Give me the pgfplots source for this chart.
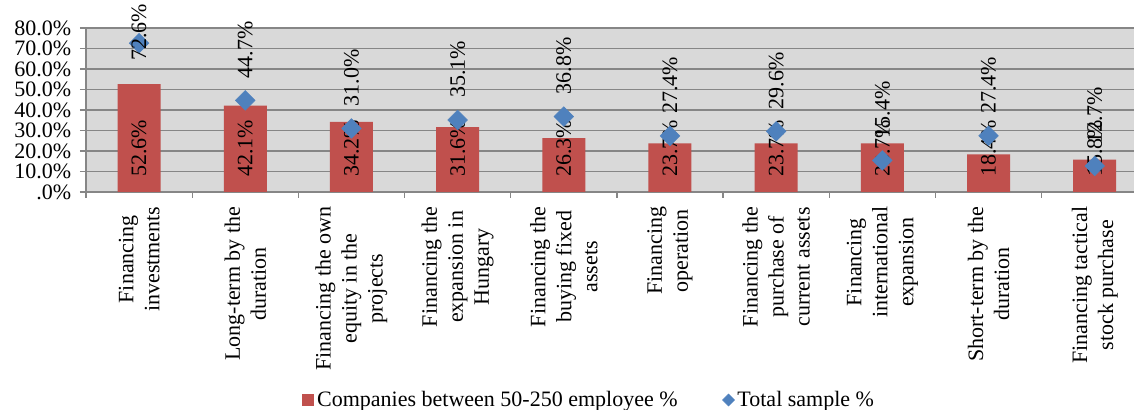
\documentclass[border=0pt]{standalone}
\usepackage{fontspec}
\setmainfont{Liberation Serif}
\usepackage{pgfplots}
\pgfplotsset{compat=1.18}
\definecolor{barred}{HTML}{C0504D}
\definecolor{mblue}{HTML}{4F81BD}
\definecolor{bggray}{HTML}{D9D9D9}
\definecolor{gridgray}{HTML}{868686}
\begin{document}
\begin{tikzpicture}[font=\fontsize{16.5}{19.5}\selectfont]
\begin{axis}[
  scale only axis, width=786pt, height=123pt,
  xmin=-0.5, xmax=9.37, ymin=0, ymax=80,
  /pgf/number format/assume math mode=true,
  axis background/.style={fill=bggray},
  axis x line*=bottom, axis y line*=left,
  axis line style={gridgray, line width=1pt, -},
  ytick={0,10,...,80},
  yticklabels={.0\%,10.0\%,20.0\%,30.0\%,40.0\%,50.0\%,60.0\%,70.0\%,80.0\%},
  yticklabel style={xshift=-3pt},
  ymajorgrids, grid style={gridgray, line width=1pt},
  tick align=outside,
  major tick length=4.5pt,
  minor tick length=4.5pt,
  every tick/.style={gridgray, line width=1pt},
  xtick={0,...,9},
  xticklabels={{Financing\\investments},{Long-term by the\\duration},{Financing the own\\equity in the\\projects},{Financing the\\expansion in\\Hungary},{Financing the\\buying fixed\\assets},{Financing\\operation},{Financing the\\purchase of\\current assets},{Financing\\international\\expansion},{Short-term by the\\duration},{Financing tactical\\stock purchase}},
  minor xtick={-0.5,0.5,...,8.5},
  major x tick style={draw=none},
  xticklabel style={yshift=-3pt, rotate=90, anchor=east, align=center},
  legend style={at={(0.4805,0)}, anchor=center, yshift=-156pt, draw=none, fill=none, inner sep=0pt, legend columns=2, /tikz/every even column/.append style={column sep=31.5pt}},
]
\coordinate (tl) at (rel axis cs:0,1);
\coordinate (br) at (rel axis cs:1,0);
\addplot[ybar, bar width=32.25pt, fill=barred, draw=none,
  visualization depends on={y \as \rawy},
  nodes near coords={\pgfmathprintnumber[fixed,fixed zerofill,precision=1]{\pgfplotspointmeta}\%},
  nodes near coords align={west},
  every node near coord/.append style={black, inner sep=0pt, yshift={-\rawy*1.5375pt+11.25pt}, rotate=90, anchor=west},
  legend image code/.code={\fill[barred] (0pt,-4.5pt) rectangle (9pt,4.5pt);},
] coordinates {(0,52.6) (1,42.1) (2,34.2) (3,31.6) (4,26.3) (5,23.7) (6,23.7) (7,23.7) (8,18.4) (9,15.8)};
\addlegendentry{Companies between 50-250 employee \%}
\addplot[only marks, mark=square*, mark size=5.2pt, mark options={rotate=45, fill=mblue, draw=mblue},
  visualization depends on={y \as \rawy},
  nodes near coords={\pgfmathprintnumber[fixed,fixed zerofill,precision=1]{\pgfplotspointmeta}\%},
  nodes near coords align={west},
  every node near coord/.append style={black, inner sep=0pt, yshift={ifthenelse(\rawy>60,-13.5,16.5)*1pt}, rotate=90, anchor=west},
  legend image code/.code={\fill[mblue] (4.5pt,-4.5pt) -- (9pt,0pt) -- (4.5pt,4.5pt) -- (0pt,0pt) -- cycle;},
] coordinates {(0,72.6) (1,44.7) (2,31.0) (3,35.1) (4,36.8) (5,27.4) (6,29.6) (7,15.4) (8,27.4) (9,12.7)};
\addlegendentry{Total sample \%}
\end{axis}
\pgfresetboundingbox
\path[use as bounding box] ([xshift=-64.5pt,yshift=21pt]tl) rectangle ([yshift=-163.5pt]br);
\end{tikzpicture}
\end{document}
